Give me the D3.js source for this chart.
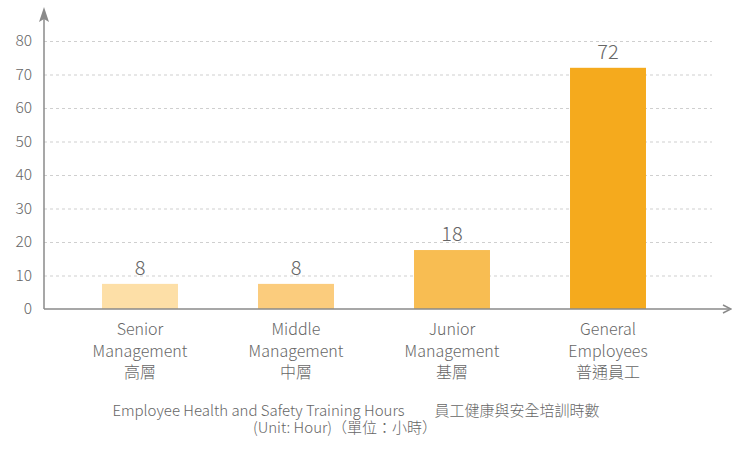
<!DOCTYPE html>
<html>
<head>
<meta charset="utf-8">
<script src="https://cdn.jsdelivr.net/npm/d3@7"></script>
<style>
  body { margin: 0; background: #fff; }
  svg text { font-family: "Noto Sans CJK TC", "Noto Sans", sans-serif; font-weight: 300; fill: #666; }
</style>
</head>
<body>
<svg id="chart" width="732" height="449"></svg>
<script>
const categories = [
  ['Senior', 'Management', '高層'],
  ['Middle', 'Management', '中層'],
  ['Junior', 'Management', '基層'],
  ['General', 'Employees', '普通員工']
]
const hours = [7.5, 7.5, 17.6, 72]
const labels = ['8', '8', '18', '72']
const colors = ['#fddfa7', '#fbcc7d', '#f8bd52', '#f5aa1d']
const yTicks = [0, 10, 20, 30, 40, 50, 60, 70, 80]
const titleLines = [
  'Employee Health and Safety Training Hours\u3000\u3000員工健康與安全培訓時數',
  '(Unit: Hour)（單位：小時）'
]

const svg = d3.select('#chart')
const axisX = 44
const axisY = 309

const x = d3.scaleBand()
  .domain(d3.range(categories.length))
  .range([62, 686])
  .paddingInner(0.513)
  .paddingOuter(0.2565)

const y = d3.scaleLinear()
  .domain([0, 80])
  .range([axisY, 41])

// gridlines
svg.append('g')
  .selectAll('line')
  .data(yTicks.filter(d => d > 0))
  .join('line')
  .attr('x1', axisX)
  .attr('x2', 712)
  .attr('y1', d => y(d) + 0.5)
  .attr('y2', d => y(d) + 0.5)
  .attr('stroke', '#cfcfcf')
  .attr('stroke-width', 1)
  .attr('stroke-dasharray', '3,3')

// tick labels
svg.append('g')
  .selectAll('text')
  .data(yTicks)
  .join('text')
  .attr('x', 32)
  .attr('y', d => y(d))
  .attr('dy', '0.35em')
  .attr('text-anchor', 'end')
  .style('font-size', '15.5px')
  .text(d => d)

// bars
svg.append('g')
  .selectAll('rect')
  .data(hours)
  .join('rect')
  .attr('x', (d, i) => x(i))
  .attr('width', x.bandwidth())
  .attr('y', d => y(d))
  .attr('height', d => y(0) - y(d))
  .attr('fill', (d, i) => colors[i])

// value labels
svg.append('g')
  .selectAll('text')
  .data(hours)
  .join('text')
  .attr('x', (d, i) => x(i) + x.bandwidth() / 2)
  .attr('y', d => y(d) - 9)
  .attr('text-anchor', 'middle')
  .style('font-size', '20px')
  .text((d, i) => labels[i])

// axes with arrows
const axisColor = '#8a8a8a'
svg.append('line')
  .attr('x1', axisX).attr('x2', axisX)
  .attr('y1', axisY).attr('y2', 16)
  .attr('stroke', axisColor).attr('stroke-width', 1.5)
svg.append('path')
  .attr('d', `M${axisX},7 L${axisX - 5},22 L${axisX},19 L${axisX + 5},22 Z`)
  .attr('fill', axisColor)
svg.append('line')
  .attr('x1', axisX).attr('x2', 729)
  .attr('y1', axisY).attr('y2', axisY)
  .attr('stroke', axisColor).attr('stroke-width', 1.5)
svg.append('path')
  .attr('d', `M723,${axisY - 4} L731,${axisY} L723,${axisY + 4}`)
  .attr('fill', 'none')
  .attr('stroke', axisColor)
  .attr('stroke-width', 1.5)

// category labels
const cat = svg.append('g')
  .selectAll('text')
  .data(categories)
  .join('text')
  .attr('x', (d, i) => x(i) + x.bandwidth() / 2)
  .attr('y', 335)
  .attr('text-anchor', 'middle')
  .style('font-size', '16px')

cat.selectAll('tspan')
  .data(d => d)
  .join('tspan')
  .attr('x', function () { return d3.select(this.parentNode).attr('x') })
  .attr('dy', (d, i) => i === 0 ? 0 : 21.5)
  .text(d => d)

// title
const titleX = [356, 345]
svg.append('g')
  .selectAll('text')
  .data(titleLines)
  .join('text')
  .attr('x', (d, i) => titleX[i])
  .attr('y', (d, i) => 416 + i * 17)
  .attr('text-anchor', 'middle')
  .style('font-size', '15px')
  .text(d => d)
</script>
</body>
</html>
